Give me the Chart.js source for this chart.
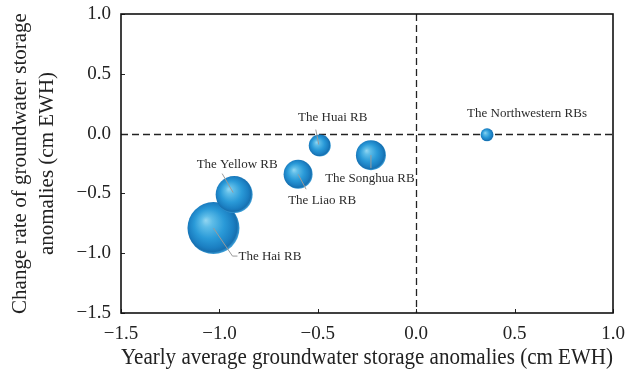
<!DOCTYPE html>
<html>
<head>
<meta charset="utf-8">
<script src="https://cdn.jsdelivr.net/npm/chart.js@4"></script>
<style>
  html, body { margin: 0; padding: 0; background: #fff; }
  #wrap { width: 643px; height: 376px; position: relative; }
</style>
</head>
<body>
<div id="wrap"><canvas id="c"></canvas></div>
<script>
// River basins: yearly average GWSA (x), change rate of GWSA (y), bubble size (px radius)
const basins = ['The Hai RB', 'The Yellow RB', 'The Liao RB', 'The Huai RB', 'The Songhua RB', 'The Northwestern RBs'];
const yearlyAvg = [-1.03, -0.925, -0.60, -0.49, -0.23, 0.36];
const changeRate = [-0.79, -0.51, -0.34, -0.10, -0.18, -0.01];
const bubbleSize = [26, 18.5, 14.5, 11, 15, 6.5];
const axisTicks = [-1.5, -1.0, -0.5, 0.0, 0.5, 1.0];

// Label placement around each bubble (text offset and leader polyline, in px from centre)
const labelLayout = [
  { dx: 25, dy: 28, align: 'left', line: [[0, 0], [19, 28], [24, 28]] },
  { dx: 3, dy: -30, align: 'center', line: [[-12, -21], [-1, -2]] },
  { dx: 24, dy: 26, align: 'center', line: [[0, 0], [8, 15]] },
  { dx: 13, dy: -28, align: 'center', line: [[-4, -16], [-1, -1]] },
  { dx: -1, dy: 23, align: 'center', line: [[0, 0], [0, 13]] },
  { dx: 40, dy: -21, align: 'center', line: null }
];

const SERIF = '"Liberation Serif", "DejaVu Serif", serif';
const fmt = v => v.toFixed(1).replace('-', '\u2212');

const points = basins.map((b, i) => ({ x: yearlyAvg[i], y: changeRate[i], r: bubbleSize[i] }));

function sphereFill(ctx) {
  const chart = ctx.chart;
  if (ctx.type !== 'data' || !chart.scales.x) return '#2596d4';
  const raw = ctx.raw;
  const cx = chart.scales.x.getPixelForValue(raw.x);
  const cy = chart.scales.y.getPixelForValue(raw.y);
  const r = raw.r;
  if (!isFinite(cx) || !isFinite(cy)) return '#2596d4';
  const g = chart.ctx.createRadialGradient(cx - 0.3 * r, cy - 0.3 * r, 0, cx - 0.05 * r, cy - 0.05 * r, r * 1.05);
  g.addColorStop(0, '#94d6f1');
  g.addColorStop(0.2, '#5fbde8');
  g.addColorStop(0.55, '#2a9ad8');
  g.addColorStop(0.82, '#1b7fc2');
  g.addColorStop(0.93, '#1770b0');
  g.addColorStop(1, '#3d9fd8');
  return g;
}

// Dashed zero lines across the plot
const zeroLines = {
  id: 'zeroLines',
  beforeDatasetsDraw(chart) {
    const { ctx, chartArea: a, scales: { x, y } } = chart;
    ctx.save();
    ctx.strokeStyle = '#222';
    ctx.lineWidth = 1.3;
    ctx.setLineDash([7, 4]);
    const x0 = Math.round(x.getPixelForValue(0)) + 0.5;
    const y0 = Math.round(y.getPixelForValue(0)) + 0.5;
    ctx.beginPath();
    ctx.moveTo(x0, a.top); ctx.lineTo(x0, a.bottom);
    ctx.moveTo(a.left, y0); ctx.lineTo(a.right, y0);
    ctx.stroke();
    ctx.restore();
  }
};

// Short inward tick marks on the bottom and left axes, plus the frame
const innerTicks = {
  id: 'innerTicks',
  afterDraw(chart) {
    const { ctx, chartArea: a, scales: { x, y } } = chart;
    ctx.save();
    ctx.strokeStyle = '#222';
    ctx.lineWidth = 1;
    ctx.beginPath();
    x.ticks.forEach(t => {
      const px = Math.round(x.getPixelForValue(t.value)) + 0.5;
      ctx.moveTo(px, a.bottom); ctx.lineTo(px, a.bottom - 4);
    });
    y.ticks.forEach(t => {
      const py = Math.round(y.getPixelForValue(t.value)) + 0.5;
      ctx.moveTo(a.left, py); ctx.lineTo(a.left + 4, py);
    });
    ctx.stroke();
    ctx.lineWidth = 1.6;
    ctx.strokeStyle = '#111';
    ctx.strokeRect(a.left, a.top, a.right - a.left, a.bottom - a.top);
    ctx.restore();
  }
};

// Basin names with grey leader lines
const basinLabels = {
  id: 'basinLabels',
  afterDatasetsDraw(chart) {
    const { ctx } = chart;
    const meta = chart.getDatasetMeta(0);
    ctx.save();
    meta.data.forEach((el, i) => {
      const L = labelLayout[i];
      const cx = el.x, cy = el.y;
      if (L.line) {
        ctx.strokeStyle = '#9a9a9a';
        ctx.lineWidth = 1;
        ctx.beginPath();
        L.line.forEach(([dx, dy], k) => {
          if (k === 0) ctx.moveTo(cx + dx, cy + dy); else ctx.lineTo(cx + dx, cy + dy);
        });
        ctx.stroke();
      }
      ctx.fillStyle = '#2b2b2b';
      ctx.font = '13px ' + SERIF;
      ctx.textAlign = L.align;
      ctx.textBaseline = 'middle';
      ctx.fillText(basins[i], cx + L.dx, cy + L.dy);
    });
    ctx.restore();
  }
};

new Chart(document.getElementById('c'), {
  type: 'bubble',
  data: {
    datasets: [{
      data: points,
      backgroundColor: sphereFill,
      borderWidth: 0,
      hoverBorderWidth: 0
    }]
  },
  options: {
    responsive: true,
    maintainAspectRatio: false,
    animation: false,
    events: [],
    layout: { autoPadding: false, padding: { top: 14, right: 30, left: 0, bottom: 0 } },
    plugins: { legend: { display: false }, tooltip: { enabled: false } },
    scales: {
      x: {
        type: 'linear', min: -1.5, max: 1.0,
        afterBuildTicks: s => { s.ticks = axisTicks.map(v => ({ value: v })); },
        afterFit: s => { s.height = 63; s.paddingLeft = 0; s.paddingRight = 0; },
        grid: { display: false, drawTicks: false },
        border: { display: false },
        ticks: { padding: 10, color: '#222', font: { family: SERIF, size: 19 }, callback: v => fmt(v), maxRotation: 0 },
        title: { display: true, text: 'Yearly average groundwater storage anomalies (cm EWH)', color: '#222', font: { family: SERIF, size: 22.5 }, padding: { top: 0 } }
      },
      y: {
        type: 'linear', min: -1.5, max: 1.0,
        afterBuildTicks: s => { s.ticks = axisTicks.map(v => ({ value: v })); },
        afterFit: s => { s.width = 121; s.paddingTop = 0; s.paddingBottom = 0; },
        grid: { display: false, drawTicks: false },
        border: { display: false },
        ticks: { padding: 10, color: '#222', font: { family: SERIF, size: 19 }, callback: v => fmt(v) },
        title: { display: true, text: ['Change rate of groundwater storage', 'anomalies (cm EWH)'], color: '#222', font: { family: SERIF, size: 21, lineHeight: 1.3 }, padding: { top: 7, bottom: 4 } }
      }
    }
  },
  plugins: [zeroLines, basinLabels, innerTicks]
});
</script>
</body>
</html>
